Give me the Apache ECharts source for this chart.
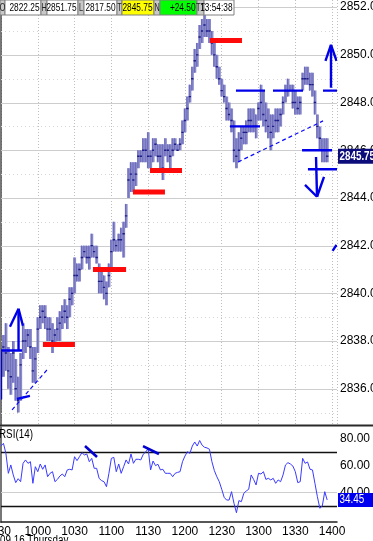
<!DOCTYPE html>
<html><head><meta charset="utf-8">
<script src="https://cdn.jsdelivr.net/npm/echarts@6/dist/echarts.min.js"></script>
<style>html,body{margin:0;padding:0;background:#fff;overflow:hidden}#c{width:373px;height:541px}</style>
</head><body><div id="c"></div>
<script>
// ---------------- DATA ----------------
const barTimes = [
'09:30','09:32','09:34','09:36','09:38','09:40','09:42','09:44','09:46','09:48',
'09:50','09:52','09:54','09:56','09:58','10:00','10:02','10:04','10:06','10:08',
'10:10','10:12','10:14','10:16','10:18','10:20','10:22','10:24','10:26','10:28',
'10:30','10:32','10:34','10:36','10:38','10:40','10:42','10:44','10:46','10:48',
'10:50','10:52','10:54','10:56','10:58','11:00','11:02','11:04','11:06','11:08',
'11:10','11:12','11:14','11:16','11:18','11:20','11:22','11:24','11:26','11:28',
'11:30','11:32','11:34','11:36','11:38','11:40','11:42','11:44','11:46','11:48',
'11:50','11:52','11:54','11:56','11:58','12:00','12:02','12:04','12:06','12:08',
'12:10','12:12','12:14','12:16','12:18','12:20','12:22','12:24','12:26','12:28',
'12:30','12:32','12:34','12:36','12:38','12:40','12:42','12:44','12:46','12:48',
'12:50','12:52','12:54','12:56','12:58','13:00','13:02','13:04','13:06','13:08',
'13:10','13:12','13:14','13:16','13:18','13:20','13:22','13:24','13:26','13:28',
'13:30','13:32','13:34','13:36','13:38','13:40','13:42','13:44','13:46','13:48',
'13:50','13:52','13:54','13:56'];
const barLow = [
2836.5,2836.5,2836.75,2836,2835.75,2836.25,2835.5,2835,2835.5,2837.25,
2837.5,2837.75,2837.25,2836.25,2836.25,2837.5,2838.5,2838.75,2838.5,2838,
2838,2837.5,2837.75,2838,2838,2838.5,2838.75,2838.5,2839,2839.5,
2840,2840.5,2840.5,2841,2841.5,2841.25,2841,2841.5,2841.5,2841.25,
2840,2840,2839.75,2839.5,2840.25,2841,2841.75,2841.75,2841.75,2841.75,
2841.5,2842.75,2844,2844.25,2844.25,2844.5,2845.25,2845.5,2845.5,2845.5,
2845.25,2845.25,2845.5,2845.75,2845.5,2845.25,2844.75,2845.75,2845.5,2845.25,
2845.75,2846,2846,2846,2846.25,2846.75,2847.25,2848,2848.5,2849.25,
2849.5,2850.25,2850.5,2850.75,2850.75,2850.5,2850,2849.5,2849,2848.75,
2848.25,2848,2847.25,2847.25,2846.75,2845.5,2845.25,2845.5,2846,2846.25,
2846.25,2846.75,2846.75,2846.75,2846.5,2847.25,2847.25,2847,2846.75,2846.5,
2846,2846.5,2846.75,2846.75,2847,2847.5,2848,2848.25,2848.5,2847.75,
2847.5,2847.5,2847.5,2848.5,2848.75,2848.75,2848.5,2848.25,2847.5,2846.5,
2846,2845.5,2845.5,2845.5];
const barHigh = [
2837.5,2838.25,2838.75,2837.75,2837.5,2838,2837.25,2836.5,2837.5,2838.75,
2838.5,2838.5,2838.5,2837.75,2837.75,2839,2839.5,2839.5,2839.5,2839,
2839,2838.75,2838.5,2839,2839.25,2839.5,2839.75,2839.5,2840.25,2840.25,
2841.5,2841.25,2841.25,2842,2842,2842,2842,2842.5,2842,2842,
2841.25,2841,2840.75,2840.5,2841.25,2842.25,2843,2842.25,2842.5,2842.75,
2843,2843.75,2845.25,2845.5,2845.5,2845.5,2846,2846,2846.5,2846.5,
2846.75,2846,2846.5,2846.5,2846.25,2846.25,2846.25,2846.5,2846.25,2846.25,
2846.5,2846.5,2846.25,2846.5,2847.25,2847.75,2848.25,2848.75,2849.5,2850.25,
2850.5,2851.25,2851.5,2851.75,2851.5,2851.5,2851,2850.5,2850,2849.5,
2849,2848.75,2848.25,2848,2847.75,2847.25,2846.5,2846.75,2847,2847,
2847.25,2847.75,2847.75,2847.75,2847.5,2848,2848.75,2848.5,2848,2847.75,
2847.5,2847.5,2847.75,2847.75,2847.75,2848.25,2848.75,2849,2848.75,2848.75,
2848.5,2848.25,2848.25,2849.25,2849.5,2849.5,2849.25,2849.25,2848.5,2847.5,
2847,2846.5,2846.5,2846.5];
const barClose = [
2837.25,2837.75,2837.5,2836.75,2836.5,2837.5,2836,2835.5,2837,2838,
2838,2838.25,2837.75,2836.75,2837.25,2838.5,2839,2839.25,2839,2838.5,
2838.5,2838,2838.25,2838.5,2838.75,2839,2839.25,2839,2839.75,2840,
2840.75,2840.75,2841,2841.5,2841.75,2841.5,2841.5,2842,2841.75,2841.5,
2840.5,2840.5,2840.25,2840,2840.75,2841.75,2842.25,2842,2842.25,2842.25,
2842.5,2843.25,2844.75,2845,2844.75,2845,2845.75,2845.75,2846,2846,
2845.75,2845.75,2846,2846.25,2845.75,2845.75,2845.25,2846,2846,2845.75,
2846,2846.25,2846,2846.25,2846.75,2847.25,2847.75,2848.25,2849,2849.75,
2850,2850.75,2851,2851.25,2851,2851,2850.5,2850,2849.5,2849,
2848.5,2848.25,2847.75,2847.5,2847.25,2846,2845.75,2846,2846.5,2846.75,
2846.75,2847.25,2847.25,2847,2847,2847.75,2848,2847.5,2847.25,2847,
2846.75,2847,2847.25,2847.25,2847.5,2848,2848.5,2848.5,2848.5,2848,
2848,2847.75,2848,2849,2849,2849,2848.75,2848.75,2848,2847,
2846.5,2846,2846,2845.75];
const rsiValues = [
74.5,76.4,69.0,54.2,60.4,53.0,47.3,50.2,48.0,61.6,
64.1,61.6,62.8,46.8,59.1,55.4,61.1,57.2,60.4,51.7,
54.2,55.4,48.0,49.7,52.2,53.7,51.7,56.7,57.2,56.7,
66.5,63.6,66.5,69.5,67.8,68.5,62.8,65.3,57.9,57.9,
50.5,48.8,48.0,44.3,54.2,65.3,66.0,55.4,61.1,54.2,
59.1,64.1,61.1,68.5,61.6,64.6,64.6,64.1,68.3,70.0,
72.5,56.7,63.3,59.9,60.9,56.7,57.2,54.2,54.2,54.2,
51.7,54.2,54.9,55.4,62.8,67.0,70.2,69.0,74.4,77.4,
74.4,78.5,75.0,73.5,73.0,72.0,62.8,56.2,51.7,48.0,
42.4,36.4,34.4,34.4,40.6,32.0,25.0,34.0,33.2,39.4,
41.1,42.4,53.0,49.7,45.6,54.2,53.7,55.4,49.7,50.5,
49.3,50.5,46.8,49.3,48.0,53.0,60.4,62.1,61.1,59.6,
55.4,47.3,48.0,65.3,61.6,62.6,57.2,56.7,46.8,36.9,
28.3,30.0,40.6,34.45];

const priceTicks = [2836,2838,2840,2842,2844,2846,2848,2850,2852];
const priceMinorLevels = [2835,2837,2839,2841,2843,2845,2847,2849,2851];
const rsiTicks = [40,60,80];
const rsiBands = [70,30];
const rsiGridLevels = [40];
const lastPrice = 2845.75;
const lastRsi = 34.45;
const quoteLabels = ['O','H','L','T','N','TT'];
const quoteValues = ['2822.25','2851.75','2817.50','2845.75','+24.50','13:54:38'];
const dateText = '09.16 Thursday';
const indicatorName = 'RSI(14)';

// annotation drawings: [minutes after 9:30, price] endpoints
const redLevels = [[34.2,60.3,2837.85],[75,102,2841],[107.6,133.7,2844.25],[121.5,147.6,2845.15],[170.4,196.5,2850.6]];
const blueLines = [
 [0,2837.6,17.1,2837.6],
 [14.3,2837.6,14.3,2839.35],[7.3,2838.6,14.3,2839.35],[17.9,2838.64,14.3,2839.35],
 [0,2837.55,0,2835.55],
 [13,2835.57,23.6,2835.7],
 [191.6,2848.5,215.3,2848.5],[221.8,2848.5,246.3,2848.5],[262.6,2848.5,274,2848.5],
 [186.7,2847,211.2,2847],
 [245.5,2846,270,2846],
 [250.3,2845.2,274,2845.2],
 [256.9,2845.72,257.7,2844.05],[247.9,2844.55,257.7,2844.05],[263.4,2844.88,257.7,2844.05],
 [269.1,2848.62,269.1,2850.42],[264.6,2849.75,269.1,2850.42],[273.6,2849.75,269.1,2850.42],
 [270.4,2841.78,273.6,2842.03]
];
const blueDashed = [[9,2835.11,37.5,2836.79],[193.3,2845.51,262.6,2847.23]];
const rsiMarks = [[68.5,74.4,78.3,66.3],[115.8,74.4,128.8,68.5]];

// ---------------- CHART ----------------
function hasFont(f){const c=document.createElement('canvas').getContext('2d');c.font='12px monospace';const a=c.measureText('1000 Thursday 2852.00').width;c.font="12px '"+f+"', monospace";return Math.abs(c.measureText('1000 Thursday 2852.00').width-a)>0.5;}
const NARROW = hasFont('Liberation Sans Narrow');
const FONT = NARROW ? "'Liberation Sans Narrow', 'Liberation Sans', Arial, sans-serif" : "'Liberation Sans', Arial, sans-serif";
const SX = NARROW ? 1 : 0.82;

const toMin = s => { const p = s.split(':'); return (+p[0])*60 + (+p[1]) - 570; };
const fmtTime = v => { const m = 570 + v; const h = Math.floor(m/60), mm = m%60; return '' + h + (mm<10?'0':'') + mm; };
const T = barTimes.map(toMin);
const bars = T.map((t,i)=>[t, barLow[i], barHigh[i], barClose[i]]);
const rsi = T.map((t,i)=>[t, rsiValues[i]]);

const chart = echarts.init(document.getElementById('c'), null, {renderer:'canvas'});

function levelRenderer(style){
  return (params, api) => {
    const cs = params.coordSys;
    const y = Math.round(api.coord([0, api.value(1)])[1]) + 0.5;
    return {type:'line', shape:{x1:cs.x, y1:y, x2:cs.x+cs.width, y2:y}, style:Object.assign({}, style)};
  };
}
function segRenderer(style){
  return (params, api) => {
    const a = api.coord([api.value(0), api.value(1)]);
    const b = api.coord([api.value(2), api.value(3)]);
    return {type:'line', shape:{x1:a[0],y1:a[1],x2:b[0],y2:b[1]}, style:Object.assign({}, style)};
  };
}
function renderBar(params, api){
  const t = api.value(0), lo = api.value(1), hi = api.value(2), cl = api.value(3);
  const pHi = api.coord([t, hi]), pLo = api.coord([t, lo]), pCl = api.coord([t, cl]);
  const w = api.size([2, 0])[0];
  const x = pHi[0];
  return {type:'group', children:[
    {type:'rect', shape:{x:x-w/2, y:pHi[1], width:w+0.3, height:Math.max(1,pLo[1]-pHi[1])}, style:{fill:'#8a8acb'}},
    {type:'line', shape:{x1:x-0.5, y1:pHi[1], x2:x-0.5, y2:pLo[1]}, style:{stroke:'#6a6abb', lineWidth:1}},
    {type:'rect', shape:{x:x-1.2, y:pCl[1]-0.7, width:2.4, height:1.4}, style:{fill:'#1c1c86'}}
  ]};
}

const axisLabelBase = {fontSize:12, color:'#000', fontFamily:FONT};

const option = {
  animation:false,
  backgroundColor:'#fff',
  grid:[{left:1, top:0, width:336, height:424.5, containLabel:false, outerBoundsMode:'none'},
        {left:1, top:427, width:336, height:95.2, containLabel:false, outerBoundsMode:'none'}],
  xAxis:[
    {gridIndex:0, type:'value', min:0, max:274, interval:30, axisLine:{show:false}, axisTick:{show:false}, axisLabel:{show:false},
     splitLine:{show:true, lineStyle:{color:'#bdbdbd', type:[1,2], width:1}}},
    {gridIndex:1, type:'value', min:0, max:274, interval:30, axisLine:{show:true, onZero:false, lineStyle:{color:'#202020', width:1.5}}, axisTick:{show:false},
     splitLine:{show:false}, axisLabel:Object.assign({margin:3, formatter:v => (v%30===0 ? fmtTime(v) : '')}, axisLabelBase)}
  ],
  yAxis:[
    {gridIndex:0, type:'value', position:'right', min:2834.5, max:2852.3, interval:0.5,
     axisLine:{show:true, lineStyle:{color:'#4a4a4a', width:1.5}}, axisTick:{show:false}, splitLine:{show:false},
     axisLabel:Object.assign({margin:3, formatter:v => (priceTicks.indexOf(v)>=0 ? v.toFixed(2) : '')}, axisLabelBase)},
    {gridIndex:1, type:'value', position:'right', min:18, max:88.5, interval:2,
     axisLine:{show:true, lineStyle:{color:'#4a4a4a', width:1.5}}, axisTick:{show:false}, splitLine:{show:false},
     axisLabel:Object.assign({margin:3, formatter:v => (rsiTicks.indexOf(v)>=0 ? v.toFixed(2) : '')}, axisLabelBase)}
  ],
  series:[
    {type:'custom', name:'grid major', xAxisIndex:0, yAxisIndex:0, silent:true, z:1,
     data:priceTicks.map(v=>[0,v]), renderItem:levelRenderer({stroke:'#cdcdcd', lineWidth:1})},
    {type:'custom', name:'grid minor', xAxisIndex:0, yAxisIndex:0, silent:true, z:1,
     data:priceMinorLevels.map(v=>[0,v]), renderItem:levelRenderer({stroke:'#d6d6d6', lineWidth:1, lineDash:[1,3]})},
    {type:'custom', name:'price', xAxisIndex:0, yAxisIndex:0, z:3, clip:true,
     encode:{x:0, y:[1,2]}, data:bars, renderItem:renderBar},
    {type:'custom', name:'levels', xAxisIndex:0, yAxisIndex:0, z:5, clip:true,
     data:redLevels.map(r=>[r[0],r[2],r[1],r[2]]), renderItem:segRenderer({stroke:'#ff0a0a', lineWidth:5})},
    {type:'custom', name:'lines', xAxisIndex:0, yAxisIndex:0, z:6, clip:true,
     data:blueLines, renderItem:segRenderer({stroke:'#0000e8', lineWidth:2.4})},
    {type:'custom', name:'trend', xAxisIndex:0, yAxisIndex:0, z:6, clip:true,
     data:blueDashed, renderItem:segRenderer({stroke:'#0a0aff', lineWidth:1.2, lineDash:[4,3]})},
    {type:'custom', name:'rsi grid', xAxisIndex:1, yAxisIndex:1, silent:true, z:1,
     data:rsiGridLevels.map(v=>[0,v]), renderItem:levelRenderer({stroke:'#cfcfcf', lineWidth:1})},
    {type:'custom', name:'rsi bands', xAxisIndex:1, yAxisIndex:1, silent:true, z:2,
     data:rsiBands.map(v=>[0,v]), renderItem:levelRenderer({stroke:'#111', lineWidth:1.5})},
    {type:'line', name:'RSI', xAxisIndex:1, yAxisIndex:1, z:4, data:rsi, symbol:'none',
     lineStyle:{color:'#3a3aff', width:1}},
    {type:'custom', name:'rsi marks', xAxisIndex:1, yAxisIndex:1, z:6, clip:true,
     data:rsiMarks, renderItem:segRenderer({stroke:'#0000d0', lineWidth:2.6})}
  ]
};
chart.setOption(option);

// ---------------- overlays ----------------
const g = [];
g.push({type:'line', shape:{x1:0,y1:425.5,x2:373,y2:425.5}, style:{stroke:'#2a2a2a', lineWidth:2}, z:100});
// quote box
const cells = [[0,5,36,'#ffffff'],[41,6,31,'#ffffff'],[78,6,33,'#ffffff'],[117,5,32,'#ffff00'],[154,6,37,'#00ff00'],[197,7,30,'#ffffff']];
cells.forEach((c,i)=>{
  const lx=c[0], lw=c[1], vw=c[2], bg=c[3], vx=lx+lw;
  g.push({type:'rect', shape:{x:lx, y:0, width:lw, height:15}, style:{fill:'#c8c8c8', stroke:'#808080', lineWidth:1}, z:110});
  g.push({type:'rect', shape:{x:vx, y:0, width:vw, height:15}, style:{fill:bg, stroke:'#808080', lineWidth:1}, z:110});
  g.push({type:'text', x:lx+lw/2, y:7.5, scaleX:SX*0.8, style:{text:quoteLabels[i], fill:'#202020', font:'11px '+FONT, align:'center', verticalAlign:'middle'}, z:111});
  g.push({type:'text', x:vx+vw-1.5, y:7.5, scaleX:SX*0.92, style:{text:quoteValues[i], fill:'#000', font:'11px '+FONT, align:'right', verticalAlign:'middle'}, z:111});
});
// indicator label and date
g.push({type:'text', x:-1, y:429, scaleX:SX, style:{text:indicatorName, fill:'#000', font:'12px '+FONT, verticalAlign:'top'}, z:111});
g.push({type:'text', x:0, y:535, scaleX:SX, style:{text:dateText, fill:'#000', font:'12px '+FONT, verticalAlign:'top'}, z:111});
// last value boxes
const yP = chart.convertToPixel({xAxisIndex:0, yAxisIndex:0}, [0, lastPrice])[1];
g.push({type:'rect', shape:{x:338, y:yP-7.5, width:35, height:15}, style:{fill:'#0c0c7a'}, z:110});
g.push({type:'text', x:339.5, y:yP, scaleX:SX, style:{text:lastPrice.toFixed(2), fill:'#fff', font:'bold 12px '+FONT, verticalAlign:'middle'}, z:111});
const yR = chart.convertToPixel({xAxisIndex:1, yAxisIndex:1}, [0, lastRsi])[1];
g.push({type:'rect', shape:{x:338, y:yR-7, width:35, height:14}, style:{fill:'#0000f0'}, z:110});
g.push({type:'text', x:339.5, y:yR, scaleX:SX, style:{text:lastRsi.toFixed(2), fill:'#fff', font:'12px '+FONT, verticalAlign:'middle'}, z:111});
chart.setOption({graphic:g});
</script>
</body></html>
